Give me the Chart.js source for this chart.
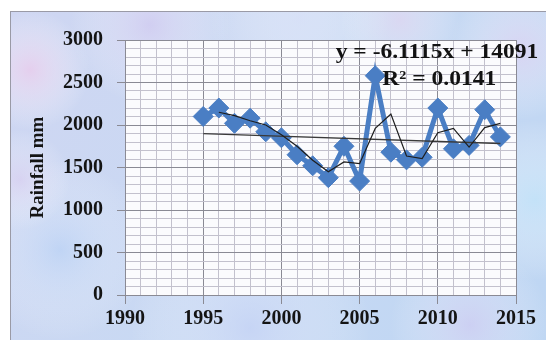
<!DOCTYPE html>
<html>
<head>
<meta charset="utf-8">
<script src="https://cdn.jsdelivr.net/npm/chart.js@4"></script>
<style>
  html, body { margin: 0; padding: 0; background: #ffffff; }
  canvas { display: block; }
</style>
</head>
<body>
<canvas id="rain" width="546" height="340"></canvas>
<script>
// Annual rainfall series
const years = [1995, 1996, 1997, 1998, 1999, 2000, 2001, 2002, 2003, 2004,
               2005, 2006, 2007, 2008, 2009, 2010, 2011, 2012, 2013, 2014];
const rainfall = [2100, 2200, 2020, 2080, 1920, 1850, 1650, 1520, 1380, 1750,
                  1340, 2580, 1680, 1590, 1620, 2200, 1720, 1760, 2180, 1860];

// Linear trend line as stated in the equation label
const trendSlope = -6.1115;
const trendIntercept = 14091;
const rSquared = 0.0141;

// Axis tick labels (grid runs every year / every 100 mm)
const xTickLabels = [1990, 1995, 2000, 2005, 2010, 2015];
const yTickLabels = [0, 500, 1000, 1500, 2000, 2500, 3000];

// 2-period moving average trendline
const movingAvg = years.slice(1).map((yr, i) => ({ x: yr, y: (rainfall[i] + rainfall[i + 1]) / 2 }));
const trendPoints = [years[0], years[years.length - 1]].map(yr => ({ x: yr, y: trendSlope * yr + trendIntercept }));

const serif = "'Liberation Serif', 'Times New Roman', serif";
Chart.defaults.font.family = serif;

const MAJOR = '#8a8a94';
const MINOR = '#c3c1cd';

// Marbled pastel backdrop, framed panel and white plot area
const backdrop = {
  id: 'backdrop',
  beforeDraw(chart) {
    const { ctx, width, height, chartArea } = chart;
    ctx.save();
    ctx.fillStyle = '#ffffff';
    ctx.fillRect(0, 0, width, height);
    const x0 = 10, y0 = 11;
    const g = ctx.createLinearGradient(x0, y0, width, height);
    g.addColorStop(0, '#cfd6f2');
    g.addColorStop(0.5, '#c8d9f3');
    g.addColorStop(1, '#bed6f3');
    ctx.fillStyle = g;
    ctx.fillRect(x0, y0, width - x0, height - y0);
    const blobs = [
      [30, 70, 60, 'rgba(236,204,236,0.75)'],
      [150, 25, 80, 'rgba(212,200,240,0.6)'],
      [300, 18, 90, 'rgba(224,230,250,0.6)'],
      [520, 50, 70, 'rgba(228,208,242,0.6)'],
      [535, 200, 80, 'rgba(196,230,250,0.7)'],
      [60, 250, 90, 'rgba(184,210,246,0.6)'],
      [250, 328, 120, 'rgba(198,210,246,0.6)'],
      [470, 325, 80, 'rgba(214,202,242,0.55)'],
      [20, 180, 50, 'rgba(220,206,240,0.6)'],
      [400, 20, 60, 'rgba(236,214,240,0.5)']
    ];
    for (const [bx, by, br, col] of blobs) {
      const rg = ctx.createRadialGradient(bx, by, 0, bx, by, br);
      rg.addColorStop(0, col);
      rg.addColorStop(1, 'rgba(255,255,255,0)');
      ctx.fillStyle = rg;
      ctx.fillRect(x0, y0, width - x0, height - y0);
    }
    ctx.strokeStyle = '#9a9aa6';
    ctx.lineWidth = 1;
    ctx.strokeRect(x0 + 0.5, y0 + 0.5, width, height);
    ctx.fillStyle = '#fbfbfd';
    ctx.fillRect(chartArea.left, chartArea.top, chartArea.right - chartArea.left, chartArea.bottom - chartArea.top);
    ctx.restore();
  }
};

// Trendline equation and R² label (slightly widened serif lettering)
const equation = {
  id: 'equation',
  afterDatasetsDraw(chart) {
    const { ctx, chartArea } = chart;
    const cx = chartArea.right - 79;
    ctx.save();
    ctx.fillStyle = '#121212';
    ctx.font = 'bold 21px ' + serif;
    ctx.textAlign = 'center';
    ctx.textBaseline = 'alphabetic';
    ctx.translate(cx, 0);
    ctx.scale(1.12, 1);
    ctx.fillText('y = ' + trendSlope.toFixed(4) + 'x + ' + trendIntercept, 0, chartArea.top + 18);
    ctx.fillText('R\u00B2 = ' + rSquared.toFixed(4), 2, chartArea.top + 45);
    ctx.restore();
  }
};

const isMajorX = v => xTickLabels.includes(v);
const isMajorY = v => yTickLabels.includes(v);

new Chart(document.getElementById('rain'), {
  type: 'scatter',
  data: {
    datasets: [
      {
        data: years.map((yr, i) => ({ x: yr, y: rainfall[i] })),
        showLine: true,
        borderColor: '#4a7ec4',
        backgroundColor: '#4a7ec4',
        borderWidth: 5,
        pointStyle: 'rectRot',
        pointRadius: 10,
        pointBackgroundColor: '#4a7ec4',
        pointBorderColor: '#4a7ec4',
        pointBorderWidth: 1,
        tension: 0,
        order: 3
      },
      {
        data: movingAvg,
        showLine: true,
        borderColor: '#1e1e1e',
        borderWidth: 1.2,
        pointRadius: 0,
        tension: 0,
        order: 1
      },
      {
        data: trendPoints,
        showLine: true,
        borderColor: '#3a3a3a',
        borderWidth: 1.4,
        pointRadius: 0,
        order: 2
      }
    ]
  },
  options: {
    responsive: false,
    animation: false,
    layout: { padding: { left: 0, top: 40, right: 30, bottom: 0 } },
    plugins: { legend: { display: false }, tooltip: { enabled: false } },
    scales: {
      x: {
        type: 'linear',
        min: 1990,
        max: 2015,
        afterFit: s => { s.height = 45; },
        ticks: {
          stepSize: 1,
          autoSkip: false,
          maxRotation: 0,
          padding: 3,
          color: '#141414',
          font: { size: 20, weight: 'bold' },
          callback: v => isMajorX(v) ? String(v) : ''
        },
        grid: {
          color: c => isMajorX(c.tick.value) ? MAJOR : MINOR,
          tickColor: c => isMajorX(c.tick.value) ? MAJOR : 'rgba(0,0,0,0)',
          tickLength: 9,
          lineWidth: 1
        },
        border: { color: MAJOR }
      },
      y: {
        min: 0,
        max: 3000,
        afterFit: s => { s.width = 125; },
        title: {
          display: true,
          text: 'Rainfall mm',
          color: '#141414',
          font: { size: 19, weight: 'bold' },
          padding: { top: 27, bottom: 0 }
        },
        ticks: {
          stepSize: 100,
          autoSkip: false,
          padding: 14,
          color: '#141414',
          font: { size: 20, weight: 'bold' },
          callback: v => isMajorY(v) ? String(v) : ''
        },
        grid: {
          color: c => isMajorY(c.tick.value) ? MAJOR : MINOR,
          tickColor: c => isMajorY(c.tick.value) ? MAJOR : 'rgba(0,0,0,0)',
          tickLength: 8,
          lineWidth: 1
        },
        border: { color: MAJOR }
      }
    }
  },
  plugins: [backdrop, equation]
});
</script>
</body>
</html>
